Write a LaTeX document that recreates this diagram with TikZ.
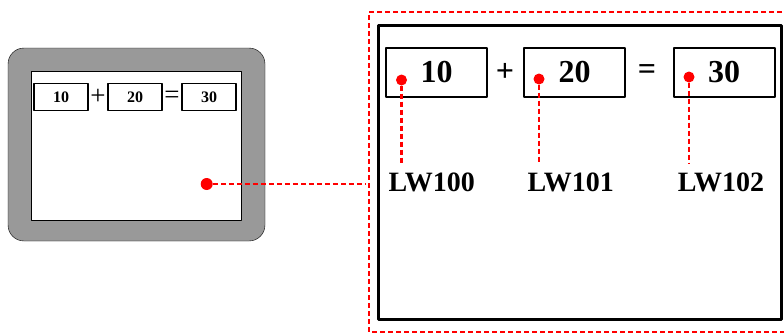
\documentclass[tikz,border=0pt]{standalone}
\usepackage{fontspec}
\setmainfont{Liberation Serif}
\usetikzlibrary{positioning}

\begin{document}
\begin{tikzpicture}[x=1pt,y=-1pt,line join=round,
    numbox/.style={draw,line width=2pt,minimum width=101pt,minimum height=49pt,inner sep=0pt,font=\fontsize{32}{36}\selectfont\bfseries},
    smallbox/.style={draw,line width=1.3pt,minimum width=54pt,minimum height=27pt,inner sep=0pt,font=\fontsize{16}{18}\selectfont\bfseries},
    bigop/.style={font=\fontsize{32}{36}\selectfont\bfseries,inner sep=0pt},
    smallop/.style={font=\fontsize{27}{30}\selectfont,inner sep=0pt},
    reddot/.style={circle,fill=red,inner sep=0pt,minimum size=11pt},
    redline/.style={red,line width=2.6pt,dash pattern=on 5pt off 3pt},
    addr/.style={font=\fontsize{28}{32}\selectfont\bfseries,inner sep=0pt}]
  \useasboundingbox (0,0) rectangle (784,333);
  % small touch panel
  \draw[fill=black!40,rounded corners=16pt] (8,48) rectangle (265,241);
  \draw[fill=white] (31.5,71.5) rectangle (241.5,220.5);
  \node[smallbox] (s1) at (61,97) {10};
  \node[smallbox] (s2) at (135,97) {20};
  \node[smallbox] (s3) at (209,97) {30};
  \path (s1) -- (s2) node[midway,smallop] {+};
  \path (s2) -- (s3) node[midway,smallop] {=};
  \node[reddot,minimum size=12pt] (d0) at (206.7,184) {};
  \coordinate (edge) at (365,184);
  \draw[redline] (d0) -- (edge);
  % enlarged view
  \draw[redline] (790,12) -- (369,12) -- (369,332) -- (790,332);
  \draw[line width=3pt] (378.5,25) rectangle (781.5,319);
  \node[numbox] (b1) at (436.5,72) {10};
  \node[numbox] (b2) at (574.5,72) {20};
  \node[numbox] (b3) at (724,72) {30};
  \node[bigop] at (505,72) {+};
  \node[bigop] at (647,72) {=};
  \node[reddot] (d1) at (401.5,80) {};
  \node[reddot] (d2) at (539,79) {};
  \node[reddot] (d3) at (689,77) {};
  \node[addr] (a1) at (431.7,182) {LW100};
  \node[addr] (a2) at (570.7,182) {LW101};
  \node[addr] (a3) at (721,182) {LW102};
  \draw[redline,shorten >=9pt] (d1) -- (d1 |- a1.north);
  \draw[redline,shorten >=9pt] (d2) -- (d2 |- a2.north);
  \draw[redline,shorten >=9pt] (d3) -- (d3 |- a3.north);
\end{tikzpicture}
\end{document}
